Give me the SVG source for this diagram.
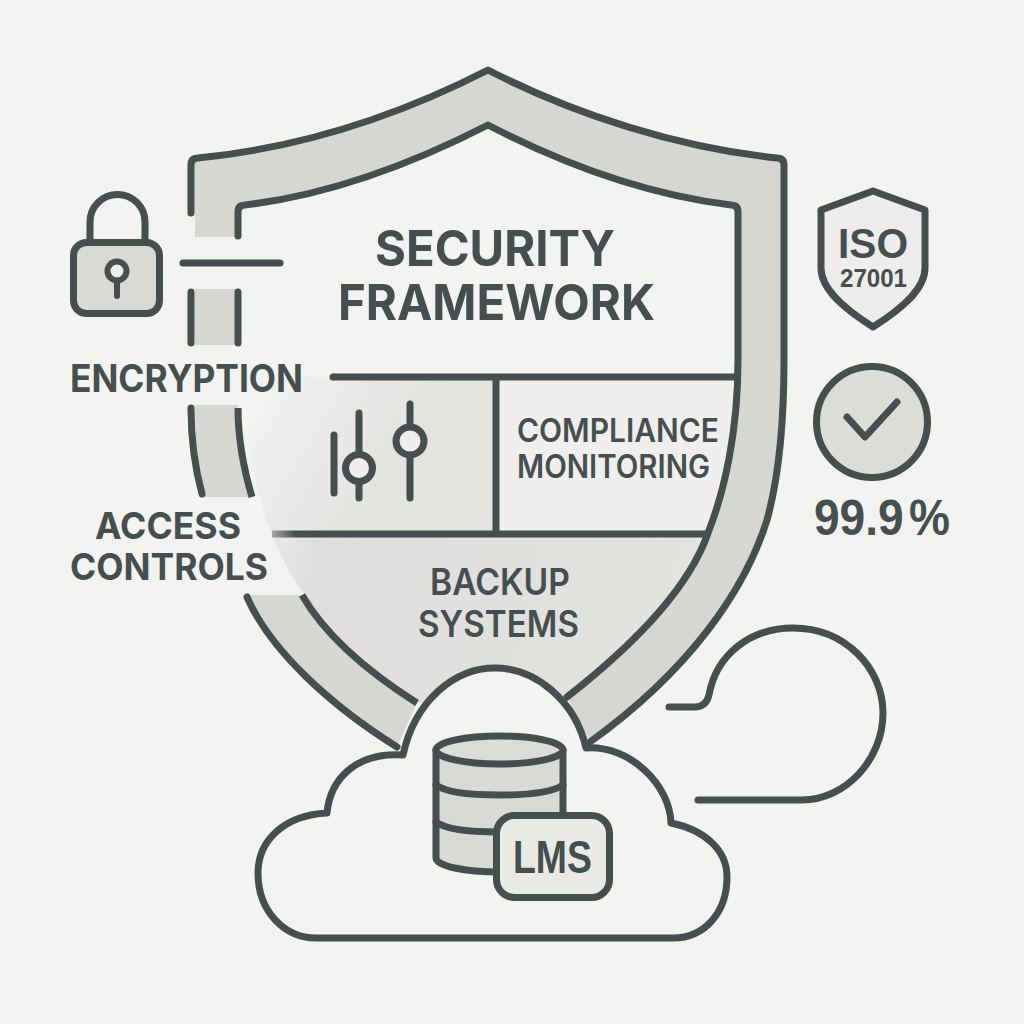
<svg xmlns="http://www.w3.org/2000/svg" width="1024" height="1024" viewBox="0 0 1024 1024">
<defs>
<linearGradient id="cellG" gradientUnits="userSpaceOnUse" x1="262" y1="385" x2="400" y2="470"><stop offset="0" stop-color="#f3f3f1"/><stop offset="0.55" stop-color="#e9e8e6"/><stop offset="1" stop-color="#e3e3e0"/></linearGradient>
<linearGradient id="backG" gradientUnits="userSpaceOnUse" x1="272" y1="540" x2="700" y2="640"><stop offset="0" stop-color="#e9e8e6"/><stop offset="0.12" stop-color="#dfdedc"/><stop offset="1" stop-color="#e3e3e0"/></linearGradient>
<linearGradient id="divG" gradientUnits="userSpaceOnUse" x1="272" y1="0" x2="295" y2="0"><stop offset="0" stop-color="#a5a8a7"/><stop offset="1" stop-color="#454f4f"/></linearGradient>
<style>
.s{fill:none;stroke:#454f4f;stroke-width:7;stroke-linecap:round;stroke-linejoin:round}
.n{stroke-linecap:butt}
.b{fill:#d6d6d3}
.t{font-family:Inter,"Liberation Sans",sans-serif;font-weight:700;fill:#454f4f}
.m{font-weight:600}
.h{font-family:"Liberation Sans",Arial,sans-serif;font-weight:700;fill:#454f4f}
</style>
</defs>
<rect width="1024" height="1024" fill="#f3f3f1"/>
<g id="shield">
<path d="M330 377H496V534H272C255 490 245 440 243 377Z" fill="url(#cellG)"/>
<path d="M496 377H738C738 440 725 490 708 534H496Z" fill="#f0efed"/>
<path d="M272 534C280 555 290 575 305 595C325 635 365 670 417 703L567 697C640 640 690 585 708 534Z" fill="url(#backG)"/>
<path class="b" d="M195 237V158C300 148 400 115 488 70C575 115 680 148 784 158V360C784 430 778 480 767 520C745 590 690 670 590 742L567 697C640 640 690 585 708 533C725 490 738 430 738 360V205C650 195 565 165 488 125C410 165 330 195 238 205V237Z"/>
<rect class="b" x="195" y="289" width="42" height="56"/>
<path class="b" d="M195 405H238C238 440 244 470 252 497H204C198 470 195 435 195 405Z"/>
<path class="b" d="M250 595H302C325 635 365 670 417 703L397 747C330 705 270 650 250 595Z"/>
<path class="s" d="M191 213V165Q191 158 198 158C300 148 400 115 488 70C575 115 680 148 777 158Q784 158 784 165V360C784 430 778 480 767 520C745 590 690 670 590 742"/>
<path class="s" d="M238 236V212Q238 205 245 205C330 195 410 165 488 125C565 165 650 195 731 205Q738 205 738 212V360C738 430 725 490 708 533C690 585 640 640 567 697"/>
<path class="s" d="M191 292V343M238 292V343M191 408C191 438 195 468 202 494M247 597C270 650 330 705 397 747"/>
<path class="s n" d="M238 408C238 440 244 470 252 497M302 595C325 635 365 670 417 703"/>
<path class="s n" d="M333 377H738"/>
<circle cx="333" cy="377" r="3.500" fill="#454f4f"/>
<path class="s n" style="stroke:url(#divG)" d="M272 534H707"/>
<path class="s n" d="M496 377V534"/>
<text class="t" x="375" y="266" font-size="50" textLength="240" lengthAdjust="spacingAndGlyphs">SECURITY</text>
<text class="t" x="338" y="320" font-size="50" textLength="317" lengthAdjust="spacingAndGlyphs">FRAMEWORK</text>
<text class="t m" x="517" y="442" font-size="32" textLength="202" lengthAdjust="spacingAndGlyphs">COMPLIANCE</text>
<text class="t m" x="517" y="478" font-size="32" textLength="193" lengthAdjust="spacingAndGlyphs">MONITORING</text>
<text class="t m" x="430" y="595" font-size="37" textLength="140" lengthAdjust="spacingAndGlyphs">BACKUP</text>
<text class="t m" x="418" y="637" font-size="37" textLength="161" lengthAdjust="spacingAndGlyphs">SYSTEMS</text>
</g>
<g id="sliders">
<path class="s" d="M334 435V493M359 413V455M359 481V498M410 404V427M410 455V498"/>
<circle class="s" cx="359" cy="468" r="13.500" style="fill:#efeeec"/>
<circle class="s" cx="410" cy="441" r="14" style="fill:#efeeec"/>
</g>
<g id="lock">
<path class="s" d="M90 242V222A27.500 27.500 0 0 1 145 222V242"/>
<rect class="s" x="73.500" y="242.500" width="86" height="71" rx="13" style="fill:#d9d9d6"/>
<circle class="s" cx="117" cy="271" r="9.500" style="stroke-width:6;fill:#efeeec"/>
<path class="s" style="stroke-width:6" d="M117 281V296"/>
</g>
<g id="encryption"><text class="t" x="70" y="392" font-size="38" textLength="233" lengthAdjust="spacingAndGlyphs">ENCRYPTION</text></g>
<g id="access-controls">
<text class="t" x="95" y="539" font-size="37" textLength="146" lengthAdjust="spacingAndGlyphs">ACCESS</text>
<text class="t" x="70" y="580" font-size="37" textLength="198" lengthAdjust="spacingAndGlyphs">CONTROLS</text>
</g>
<g id="iso">
<path class="s" style="fill:#eeedeb" d="M873 191L925 210V268C925 290 900 310 873 327C846 310 821 290 821 268V210Z"/>
<text class="h" x="838" y="258" font-size="43" textLength="70" lengthAdjust="spacingAndGlyphs">ISO</text>
<text class="h" x="840" y="287" font-size="25" textLength="67" lengthAdjust="spacingAndGlyphs">27001</text>
</g>
<g id="uptime">
<circle class="s" cx="872" cy="422" r="55.500" style="fill:#dcdcd9"/>
<path class="s" d="M847 417L865 437L897 402"/>
<text class="h" x="814" y="535" font-size="50" word-spacing="-8" textLength="136" lengthAdjust="spacingAndGlyphs">99.9 %</text>
</g>
<g id="connectors">
<path class="s" d="M183 263H280"/>
<path class="s" d="M669 707H695Q706 707 709 695C716 655 750 628 793 628C845 628 883 668 883 713C883 760 845 800 802 800H698"/>
</g>
<g id="cloud">
<path class="s" style="fill:#f3f3f1" d="M403 755C415 700 455 668 495 668C535 668 575 700 586 748C630 745 670 785 671 823C705 830 727 850 727 877C727 912 705 938 673 938H316C285 938 258 912 258 873C258 840 285 815 327 813C330 780 355 752 403 755Z"/>
</g>
<g id="database">
<path class="s" style="fill:#d9d9d6" d="M436 750V858C436 866 465 872 499 872H510V830H563V750Z"/>
<ellipse class="s" cx="499.500" cy="750" rx="63.500" ry="14" style="fill:#dcdcd9"/>
<path class="s" d="M436 785C445 792 470 795 499 795C528 795 553 792 563 785M436 822C445 829 470 832 499 832H500"/>
</g>
<g id="lms">
<rect class="s" x="496.500" y="815.500" width="113" height="82" rx="18" style="fill:#e9e9e6"/>
<text x="513" y="873" font-size="46" textLength="79" lengthAdjust="spacingAndGlyphs" font-weight="700" font-family="'Liberation Sans',sans-serif" fill="#454f4f">LMS</text>
</g>
</svg>
